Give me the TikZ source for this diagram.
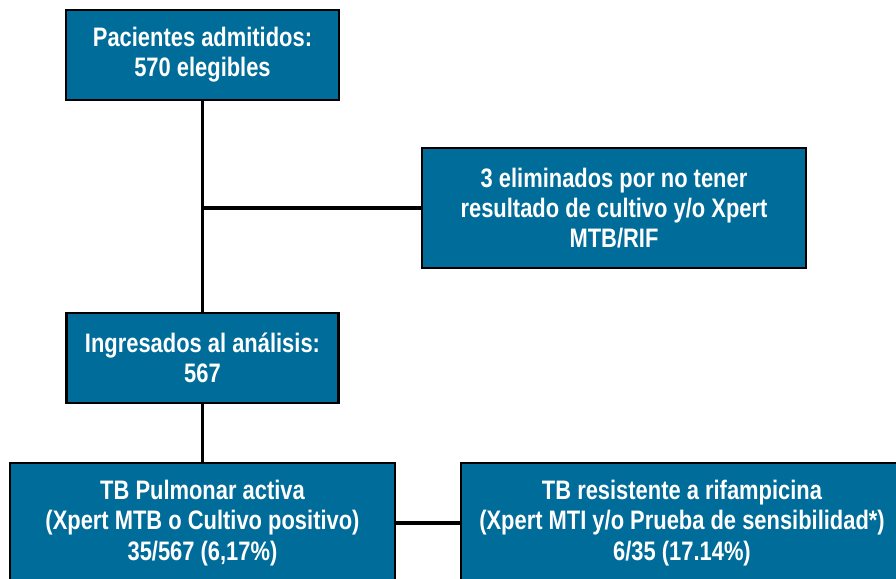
\documentclass[tikz,border=0pt]{standalone}
\usepackage{fontspec}
\usepackage{tikz}
\usetikzlibrary{positioning}
\newfontfamily\narrowbf[FakeStretch=0.82]{Liberation Sans Bold}
\definecolor{boxblue}{RGB}{0,108,153}
\tikzset{flowbox/.style={
            draw=black, line width=2pt, fill=boxblue, text=white,
            align=center, inner sep=0pt,
            font=\narrowbf\fontsize{19}{21.5}\selectfont
      },
      link/.style={draw=black, line width=2.8pt}
}

\begin{document}
\begin{tikzpicture}[x=0.025cm,y=-0.025cm]
\useasboundingbox (0,0) rectangle (896,579);
\clip (0,0) rectangle (896,579);
\node[flowbox, minimum width=273*0.025cm, minimum height=90*0.025cm] (admit) at (202.5,55) {Pacientes admitidos:\\570 elegibles};
\node[flowbox, minimum width=384*0.025cm, minimum height=120*0.025cm] (removed) at (614,208) {3 eliminados por no tener\\resultado de cultivo y/o Xpert\\MTB/RIF};
\node[flowbox, minimum width=272*0.025cm, minimum height=90*0.025cm] (ingress) at (202.5,358) {Ingresados al an\'alisis:\\567};
\node[flowbox, minimum width=385*0.025cm, minimum height=120*0.025cm] (pulmo) at (202.5,523) {TB Pulmonar activa\\(Xpert MTB o Cultivo positivo)\\35/567 (6,17\%)};
\node[flowbox, minimum width=442*0.025cm, minimum height=120*0.025cm] (resist) at (682,523) {TB resistente a rifampicina\\(Xpert MTI y/o Prueba de sensibilidad*)\\6/35 (17.14\%)};
\coordinate (split) at (admit.south |- removed.west);
\draw[link] (admit.south) -- (ingress.north);
\draw[link] (split) -- (removed.west);
\draw[link] (ingress.south) -- (pulmo.north);
\draw[link] (pulmo.east) -- (resist.west);
\end{tikzpicture}
\end{document}
